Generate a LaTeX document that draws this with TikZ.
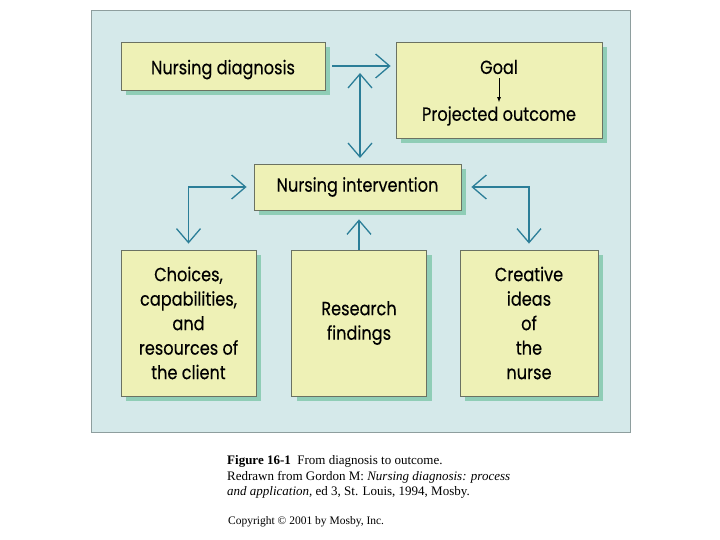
\documentclass[tikz,border=0pt]{standalone}
\usepackage{fontspec}
\setmainfont{Liberation Serif}
\newfontfamily\boxfont[FakeStretch=0.85,FakeBold=0.25]{Poppins}
\usetikzlibrary{arrows.meta,shadows}
\definecolor{panelc}{HTML}{D5E9EA}
\definecolor{panelb}{HTML}{8E9E9E}
\definecolor{boxc}{HTML}{EEF1B6}
\definecolor{boxb}{HTML}{6B7262}
\definecolor{shadc}{HTML}{8FCDB6}
\definecolor{arrc}{HTML}{2B7E98}
\tikzset{
  boxstyle/.style={draw=boxb, line width=0.8pt, fill=boxc, inner sep=0pt,
    general shadow={fill=shadc, shadow xshift=5pt, shadow yshift=-5pt},
    align=center, text=black, font=\boxfont\fontsize{19}{24.5}\selectfont},
  plaintext/.style={inner sep=0pt, text=black, font=\boxfont\fontsize{19}{24.5}\selectfont},
  arr/.style={draw=arrc, line width=1.3pt,
    arrows={-Straight Barb[length=14pt,width=24pt,line width=1.3pt]}},
  darr/.style={draw=arrc, line width=1.3pt,
    arrows={Straight Barb[length=14pt,width=24pt,line width=1.3pt]-Straight Barb[length=14pt,width=24pt,line width=1.3pt]}},
  smallarr/.style={draw=black, line width=0.7pt, arrows={-Latex[length=5pt,width=4pt]}},
  captext/.style={inner sep=0pt, anchor=west, align=left, text=black}
}
\begin{document}
\begin{tikzpicture}[x=1pt,y=-1pt]
\useasboundingbox (0,0) rectangle (720,540);
\fill[white] (0,0) rectangle (720,540);
\draw[panelb, fill=panelc, line width=1pt] (91,11) rectangle (630,432);

\node[boxstyle, minimum width=204pt, minimum height=48pt, text depth=0pt] (ND) at (223,66) {\raisebox{-2pt}{Nursing diagnosis}};
\node[boxstyle, minimum width=206pt, minimum height=96pt] (Goal) at (499,90) {};
\node[plaintext] (GoalT) at (499,67) {Goal};
\node[plaintext] (PO) at (499,116) {Projected outcome};
\node[boxstyle, minimum width=207pt, minimum height=46pt] (NI) at (357.5,187) {\raisebox{-2pt}{Nursing intervention}};
\node[boxstyle, minimum width=135pt, minimum height=146pt] (CH) at (188.5,323)
  {Choices,\\capabilities,\\and\\resources of\\the client};
\node[boxstyle, minimum width=135pt, minimum height=146pt] (RF) at (359,323)
  {\raisebox{-2pt}{Research}\\\raisebox{-2pt}{findings}};
\node[boxstyle, minimum width=138pt, minimum height=146pt] (CR) at (529,323)
  {Creative\\ideas\\of\\the\\nurse};

\coordinate (vtop) at (360,73);
\coordinate (vbot) at (360,158);

\draw[smallarr, shorten <=4pt, shorten >=4pt] (GoalT.south) -- (PO.north);
\draw[arr, shorten <=7pt, shorten >=5pt] (ND.east) -- (ND.east -| Goal.west);
\draw[darr] (vtop) -- (vbot);
\draw[darr, shorten <=7pt, shorten >=6pt] (NI.west) -| (CH.north);
\draw[darr, shorten <=10pt, shorten >=6pt] (NI.east) -| (CR.north);
\draw[arr, shorten >=9pt] (RF.north) -- (RF.north |- NI.south);

\node[captext] (cap1) at (227,461) {\fontsize{13}{15}\selectfont\textbf{Figure 16-1}\ \ From diagnosis to outcome.};
\node[captext] (cap2) at (227,477) {\fontsize{13}{15}\selectfont Redrawn from Gordon M: \textit{Nursing diagnosis: process}};
\node[captext] (cap3) at (227,492) {\fontsize{13}{15}\selectfont\textit{and application,} ed 3, St. Louis, 1994, Mosby.};
\node[captext] (cap4) at (228,522) {\fontsize{11.5}{14}\selectfont Copyright \textcopyright\ 2001 by Mosby, Inc.};
\end{tikzpicture}
\end{document}
